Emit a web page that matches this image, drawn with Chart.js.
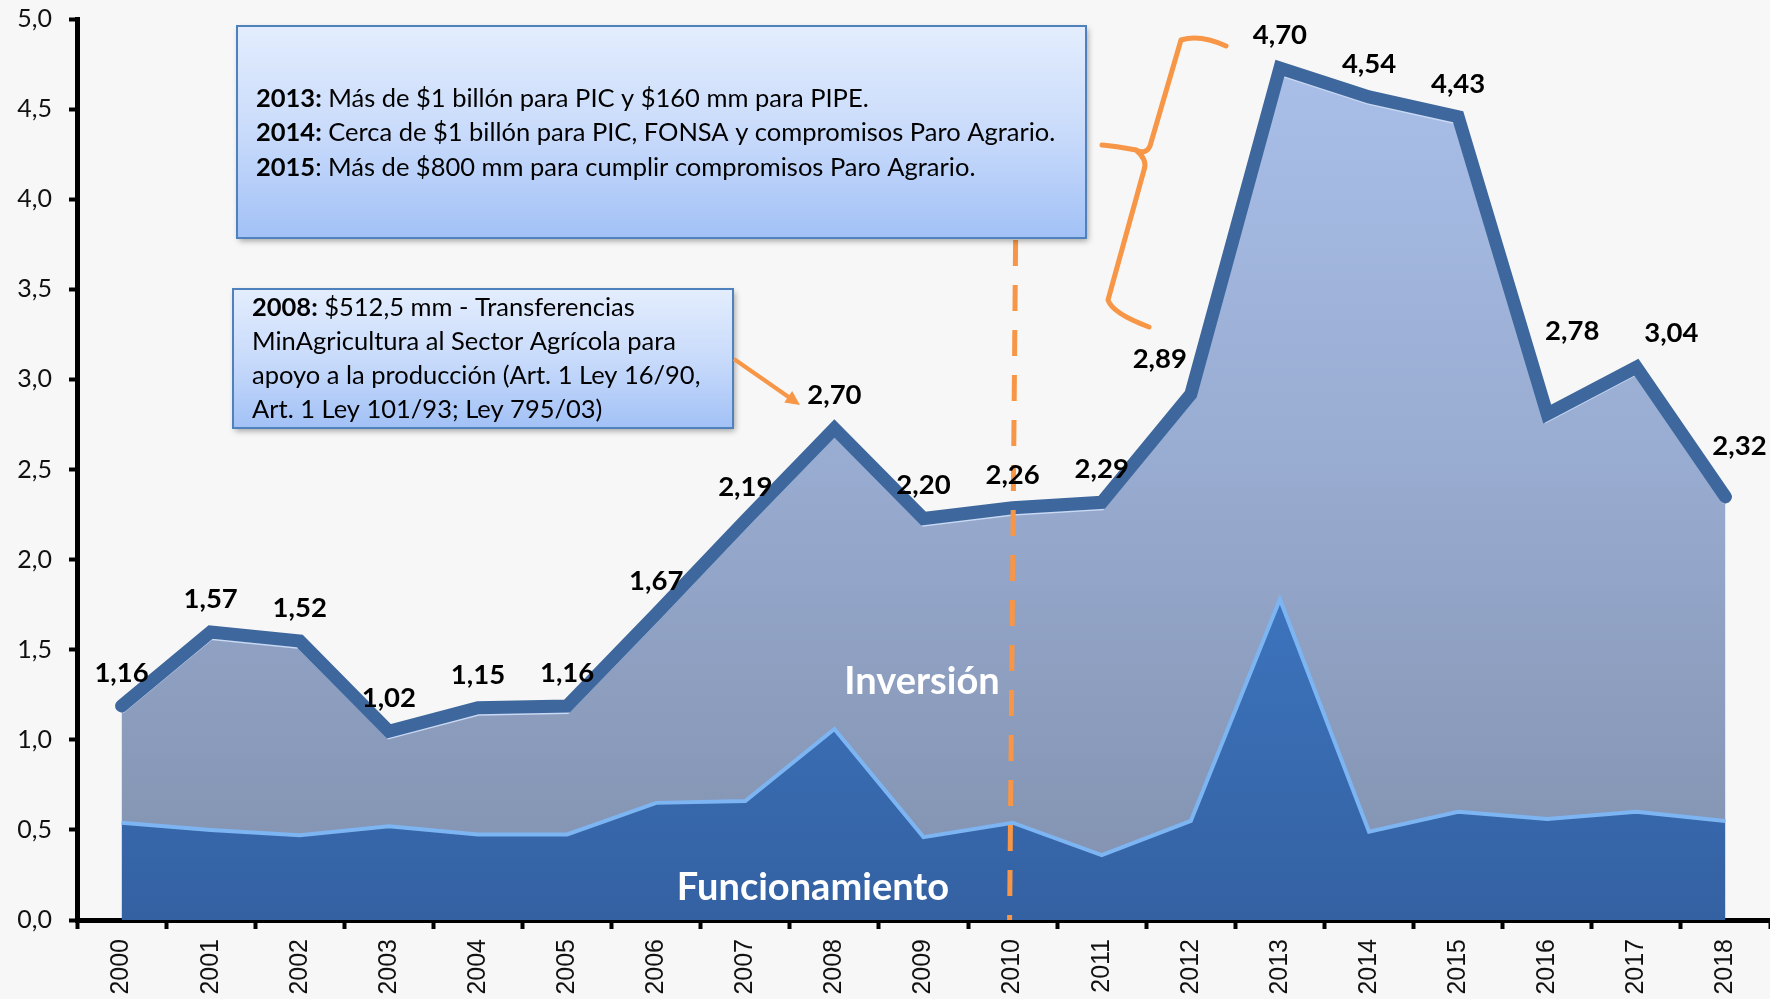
<!DOCTYPE html>
<html>
<head>
<meta charset="utf-8">
<script src="https://cdn.jsdelivr.net/npm/chart.js@4.4.0/dist/chart.umd.min.js"></script>
<style>
  html, body { margin: 0; padding: 0; background: #f7f7f7; }
  canvas { display: block; }
</style>
</head>
<body>
<canvas id="chart" width="1770" height="999"></canvas>
<script>
// Presupuesto sector agropecuario (billones de pesos)
const years = ['2000', '2001', '2002', '2003', '2004', '2005', '2006', '2007', '2008', '2009',
  '2010', '2011', '2012', '2013', '2014', '2015', '2016', '2017', '2018']
const total = [1.16, 1.57, 1.52, 1.02, 1.15, 1.16, 1.67, 2.19, 2.70, 2.20,
  2.26, 2.29, 2.89, 4.70, 4.54, 4.43, 2.78, 3.04, 2.32]
const funcionamiento = [0.54, 0.50, 0.47, 0.52, 0.475, 0.475, 0.65, 0.66, 1.06, 0.46,
  0.54, 0.36, 0.55, 1.78, 0.49, 0.60, 0.56, 0.60, 0.55]
const yTicks = [0, 0.5, 1, 1.5, 2, 2.5, 3, 3.5, 4, 4.5, 5]

// label nudges (px) where the original moved the value label
const labelNudge = { 12: [-31, -40], 16: [25, -88], 17: [35, -39], 18: [14, -56] }

const ORANGE = '#f79646'
const FONT = 'Lato, "Open Sans", sans-serif'

const fmt = (v) => v.toFixed(2).replace('.', ',')

function vGradient(ctx, area, stops) {
  const g = ctx.createLinearGradient(0, area.top, 0, area.bottom)
  stops.forEach(([o, c]) => g.addColorStop(o, c))
  return g
}

function richLine(ctx, parts, x, y) {
  parts.forEach(([txt, bold]) => {
    ctx.font = (bold ? 'bold ' : '') + '25.5px ' + FONT
    ctx.fillText(txt, x, y)
    x += ctx.measureText(txt).width
  })
}

function noteBox(ctx, x, y, w, h, lines, lineY) {
  ctx.save()
  ctx.shadowColor = 'rgba(0,0,0,0.35)'
  ctx.shadowBlur = 6
  ctx.shadowOffsetX = 2
  ctx.shadowOffsetY = 3
  const g = ctx.createLinearGradient(0, y, 0, y + h)
  g.addColorStop(0, '#e3edfd')
  g.addColorStop(0.5, '#c9dbfb')
  g.addColorStop(1, '#a2c1f6')
  ctx.fillStyle = g
  ctx.fillRect(x, y, w, h)
  ctx.restore()
  ctx.strokeStyle = '#4f81bd'
  ctx.lineWidth = 2
  ctx.strokeRect(x, y, w, h)
  ctx.fillStyle = '#000'
  ctx.textBaseline = 'middle'
  ctx.textAlign = 'left'
  lines.forEach((parts, i) => richLine(ctx, parts, x + 19, lineY[i]))
}

const decorations = {
  id: 'decorations',
  beforeDraw(chart) {
    const { ctx } = chart
    ctx.save()
    ctx.fillStyle = '#f7f7f7'
    ctx.fillRect(0, 0, chart.width, chart.height)
    ctx.restore()
  },
  beforeDatasetDraw(chart, args) {
    if (args.index === 2) {
      chart.ctx.save()
      chart.ctx.translate(0, -5)
    }
  },
  afterDatasetDraw(chart, args) {
    if (args.index === 2) chart.ctx.restore()
  },
  afterDatasetsDraw(chart) {
    const { ctx, scales: { x, y } } = chart
    const meta = chart.getDatasetMeta(2)

    // series names
    ctx.save()
    ctx.fillStyle = '#fff'
    ctx.textAlign = 'center'
    ctx.textBaseline = 'middle'
    ctx.font = 'bold 38px ' + FONT
    ctx.fillText('Inversión', 922, 682)
    ctx.fillText('Funcionamiento', 813, 888)
    ctx.restore()

    // dashed line at 2010
    const x10 = x.getPixelForValue(10)
    ctx.save()
    ctx.strokeStyle = ORANGE
    ctx.lineWidth = 5
    ctx.setLineDash([26, 19])
    ctx.beginPath()
    ctx.moveTo(x10 + 3, 240)
    ctx.lineTo(x10 - 3, y.bottom)
    ctx.stroke()
    ctx.restore()

    // value labels
    ctx.save()
    ctx.fillStyle = '#000'
    ctx.textAlign = 'center'
    ctx.textBaseline = 'middle'
    ctx.font = 'bold 27.5px ' + FONT
    meta.data.forEach((pt, i) => {
      const [dx, dy] = labelNudge[i] || [0, -38]
      ctx.fillText(fmt(total[i]), pt.x + dx, pt.y + dy)
    })
    ctx.restore()

    // note boxes
    ctx.save()
    noteBox(ctx, 237, 26, 849, 212, [
      [['2013:', true], [' Más de $1 billón para PIC y $160 mm para PIPE.', false]],
      [['2014:', true], [' Cerca de $1 billón para PIC, FONSA y compromisos Paro Agrario.', false]],
      [['2015', true], [': Más de $800 mm para cumplir compromisos Paro Agrario.', false]]
    ], [99, 133, 168])
    noteBox(ctx, 233, 289, 500, 139, [
      [['2008:', true], [' $512,5 mm - Transferencias', false]],
      [['MinAgricultura al Sector Agrícola para', false]],
      [['apoyo a la producción (Art. 1 Ley 16/90,', false]],
      [['Art. 1 Ley 101/93; Ley 795/03)', false]]
    ], [308, 342, 376, 410])
    ctx.restore()

    // arrow to 2008
    ctx.save()
    ctx.strokeStyle = ORANGE
    ctx.fillStyle = ORANGE
    ctx.lineWidth = 4
    ctx.beginPath()
    ctx.moveTo(734, 359)
    ctx.lineTo(790, 398)
    ctx.stroke()
    const ang = Math.atan2(403 - 359, 797 - 734)
    ctx.beginPath()
    ctx.moveTo(800, 405)
    ctx.lineTo(800 - 16 * Math.cos(ang - 0.45), 405 - 16 * Math.sin(ang - 0.45))
    ctx.lineTo(800 - 16 * Math.cos(ang + 0.45), 405 - 16 * Math.sin(ang + 0.45))
    ctx.closePath()
    ctx.fill()
    ctx.restore()

    // curly brace 2013-2015
    ctx.save()
    ctx.strokeStyle = ORANGE
    ctx.lineWidth = 5
    ctx.lineCap = 'round'
    ctx.lineJoin = 'round'
    ctx.beginPath()
    ctx.moveTo(1226, 46)
    ctx.quadraticCurveTo(1200, 34, 1181, 40)
    ctx.lineTo(1150, 146)
    ctx.quadraticCurveTo(1146, 155, 1136, 150)
    ctx.quadraticCurveTo(1115, 146, 1102, 145)
    ctx.moveTo(1136, 150)
    ctx.quadraticCurveTo(1148, 160, 1144, 170)
    ctx.lineTo(1108, 300)
    ctx.quadraticCurveTo(1112, 313, 1149, 327)
    ctx.stroke()
    ctx.restore()
  }
}

new Chart(document.getElementById('chart'), {
  type: 'line',
  data: {
    labels: years,
    datasets: [
      {
        label: 'Funcionamiento',
        data: funcionamiento,
        fill: 'origin',
        borderColor: '#7db5f2',
        borderWidth: 4,
        backgroundColor: (c) => c.chart.chartArea
          ? vGradient(c.chart.ctx, c.chart.chartArea, [[0, '#5597e6'], [0.6, '#3d76c0'], [1, '#3461a2']])
          : '#3a6fb5',
        pointRadius: 0,
        order: 1
      },
      {
        label: 'Inversión',
        data: total,
        fill: '-1',
        borderColor: '#c9d8f3',
        borderWidth: 6,
        backgroundColor: (c) => c.chart.chartArea
          ? vGradient(c.chart.ctx, c.chart.chartArea, [[0, '#abc1eb'], [0.5, '#98abd0'], [1, '#8190ad']])
          : '#8d9dbf',
        pointRadius: 0,
        order: 2
      },
      {
        label: 'Total',
        data: total,
        fill: false,
        borderColor: '#3e689d',
        borderWidth: 13,
        borderJoinStyle: 'miter',
        borderCapStyle: 'round',
        pointRadius: 0,
        order: 0
      }
    ]
  },
  options: {
    responsive: false,
    animation: false,
    devicePixelRatio: 1,
    layout: { padding: { top: 19, right: 0, left: 0, bottom: 0 } },
    plugins: {
      legend: { display: false },
      tooltip: { enabled: false }
    },
    scales: {
      x: {
        offset: true,
        grid: {
          offset: true,
          drawOnChartArea: false,
          tickLength: 9,
          tickWidth: 4,
          color: '#000'
        },
        border: { color: '#000', width: 5 },
        ticks: {
          minRotation: 90,
          maxRotation: 90,
          padding: 10,
          color: '#111',
          font: { family: '"Liberation Sans", Arial, sans-serif', size: 25 }
        },
        afterFit: (s) => {
          s.height = 79
          s.paddingLeft = 0
          s.paddingRight = 0
        }
      },
      y: {
        min: 0,
        max: 5,
        afterBuildTicks: (s) => { s.ticks = yTicks.map((v) => ({ value: v })) },
        grid: {
          drawOnChartArea: false,
          tickLength: 8,
          tickWidth: 4,
          color: '#000'
        },
        border: { color: '#000', width: 5 },
        ticks: {
          padding: 17,
          color: '#111',
          font: { family: FONT, size: 25 },
          callback: (v) => v.toFixed(1).replace('.', ',')
        },
        afterFit: (s) => {
          s.width = 77
          s.paddingTop = 0
          s.paddingBottom = 0
        }
      }
    }
  },
  plugins: [decorations]
})
</script>
</body>
</html>
